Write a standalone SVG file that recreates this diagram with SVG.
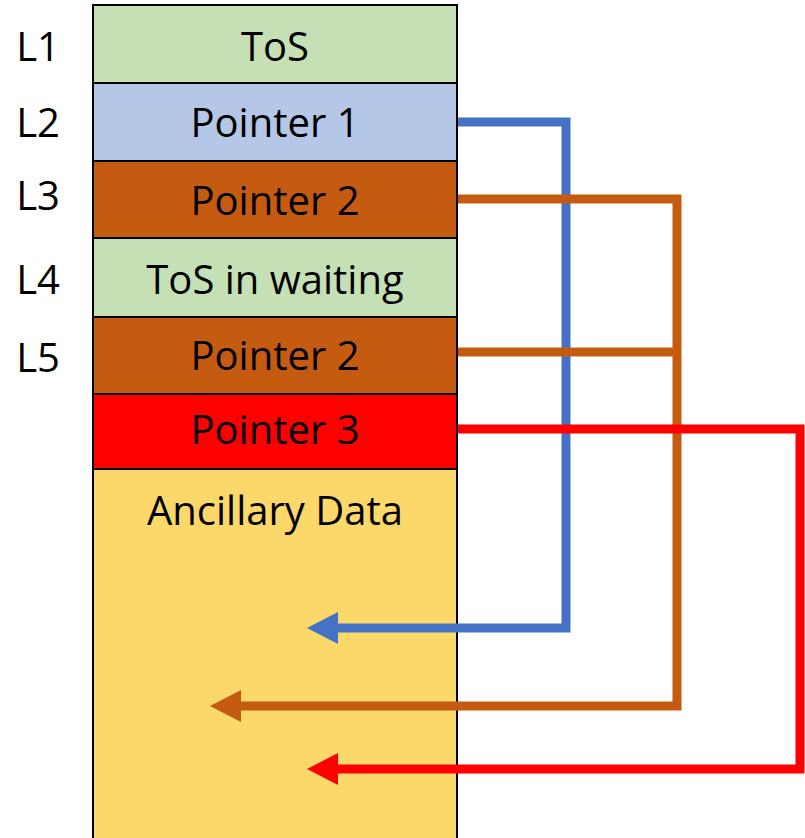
<svg xmlns="http://www.w3.org/2000/svg" width="805" height="838" viewBox="0 0 805 838">
  <style>
    .cell { stroke: #000; stroke-width: 2; }
    .txt { font-family: "Open Sans", "Liberation Sans", Arial, sans-serif; font-size: 40px; fill: #000; text-anchor: middle; }
    .lbl { font-family: "Open Sans", "Liberation Sans", Arial, sans-serif; font-size: 40px; fill: #000; text-anchor: middle; }
    .wire { fill: none; stroke-width: 9; stroke-linejoin: miter; stroke-linecap: butt; }
  </style>
  <rect width="805" height="838" fill="#fff"/>

  <!-- row labels -->
  <g id="labels">
    <text class="lbl" x="38" y="61">L1</text>
    <text class="lbl" x="38" y="137">L2</text>
    <text class="lbl" x="38" y="210">L3</text>
    <text class="lbl" x="38" y="294">L4</text>
    <text class="lbl" x="38" y="372">L5</text>
  </g>

  <!-- stack cells -->
  <g id="tos">
    <rect class="cell" x="93" y="5" width="364" height="78" fill="#C5E0B4"/>
    <text class="txt" x="275" y="61">ToS</text>
  </g>
  <g id="pointer1">
    <rect class="cell" x="93" y="83" width="364" height="78" fill="#B4C7E7"/>
    <text class="txt" x="275" y="137">Pointer 1</text>
  </g>
  <g id="pointer2a">
    <rect class="cell" x="93" y="161" width="364" height="77" fill="#C55A11"/>
    <text class="txt" x="275" y="215">Pointer 2</text>
  </g>
  <g id="tos-waiting">
    <rect class="cell" x="93" y="238" width="364" height="79" fill="#C5E0B4"/>
    <text class="txt" x="275" y="294">ToS in waiting</text>
  </g>
  <g id="pointer2b">
    <rect class="cell" x="93" y="317" width="364" height="77" fill="#C55A11"/>
    <text class="txt" x="275" y="370">Pointer 2</text>
  </g>
  <g id="pointer3">
    <rect class="cell" x="93" y="394" width="364" height="75" fill="#FF0000"/>
    <text class="txt" x="275" y="444">Pointer 3</text>
  </g>
  <g id="ancillary">
    <rect class="cell" x="93" y="469" width="364" height="372" fill="#FCD86A"/>
    <text class="txt" x="275" y="525">Ancillary Data</text>
  </g>

  <!-- pointer connectors -->
  <g id="connectors">
    <path class="wire" stroke="#4472C4" d="M458,122 H566 V628 H337"/>
    <polygon fill="#4472C4" points="307,628 338,612 338,644"/>

    <path class="wire" stroke="#C55A11" d="M458,199 H677 V706 H240"/>
    <path class="wire" stroke="#C55A11" d="M458,352 H677"/>
    <polygon fill="#C55A11" points="210,706 241,690 241,722"/>

    <path class="wire" stroke="#FF0000" d="M458,429 H800 V769 H337"/>
    <polygon fill="#FF0000" points="307,769 338,753 338,785"/>
  </g>
</svg>
